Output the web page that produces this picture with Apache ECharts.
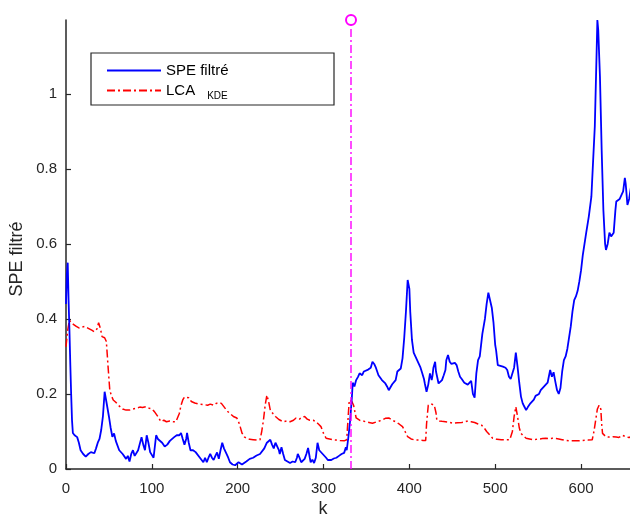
<!DOCTYPE html>
<html>
<head>
<meta charset="utf-8">
<script src="https://cdn.jsdelivr.net/npm/echarts@6/dist/echarts.min.js"></script>
<style>html,body{margin:0;padding:0;background:#fff}#c{width:630px;height:521px}</style>
</head>
<body>
<div id="c"></div>
<script>
const xTicks = [0, 100, 200, 300, 400, 500, 600];
const yTicks = [0, 0.2, 0.4, 0.6, 0.8, 1];
const faultK = 332;

const speK = [0,1,2,3,4,5,6,7,8,10,11,13,15,17,20,23,26,29,31,33,35,37,39,41,43,45,47,50,52,54,56,58,60,62,64,66,68,70,72,74,76,78,80,82,84,86,88,90,92,94,96,98,100,102,104,105,107,109,112,115,118,121,123,126,129,132,134,136,138,140,141,143,145,148,151,153,156,158,160,162,164,166,168,170,172,174,176,178,180,182,184,187,189,191,194,197,199,201,203,205,207,210,214,218,222,226,228,231,234,236,238,240,242,244,246,248,249,251,253,255,258,261,264,267,269,270,272,274,276,278,280,282,284,285,287,289,291,293,295,297,299,301,303,305,309,312,315,318,321,323,324,326,327,329,331,333,334,336,338,340,342,345,347,349,352,355,357,359,361,364,366,368,370,372,374,376,378,380,382,384,386,388,390,392,394,396,398,400,401,403,405,407,409,411,413,415,417,418,420,422,423,424,426,427,428,430,431,432,434,436,438,440,442,443,445,447,449,451,453,455,457,459,461,462,464,466,468,470,472,474,476,478,480,482,485,488,490,492,494,496,498,500,501,503,506,509,512,514,516,518,520,522,524,526,528,530,532,534,536,538,539,541,543,545,547,549,551,553,555,557,559,561,562,564,566,568,570,572,574,576,578,580,582,584,586,588,590,592,594,596,598,600,602,604,606,609,612,614,616,618,619,620,622,624,626,628,629,631,633,635,637,638,640,641,643,645,647,649,651,652,654,656,658];
const speVal = [0.44,0.52,0.55,0.45,0.37,0.28,0.20,0.13,0.096,0.09,0.095,0.085,0.07,0.05,0.04,0.033,0.04,0.045,0.04,0.042,0.055,0.07,0.08,0.104,0.14,0.206,0.18,0.14,0.11,0.086,0.095,0.075,0.07,0.05,0.055,0.04,0.035,0.027,0.035,0.02,0.04,0.05,0.035,0.03,0.05,0.045,0.085,0.065,0.05,0.09,0.07,0.045,0.04,0.03,0.07,0.09,0.08,0.08,0.07,0.06,0.065,0.075,0.08,0.085,0.09,0.09,0.096,0.08,0.065,0.08,0.096,0.07,0.05,0.05,0.045,0.04,0.03,0.024,0.018,0.03,0.018,0.03,0.04,0.03,0.024,0.035,0.044,0.027,0.05,0.07,0.055,0.04,0.03,0.018,0.012,0.01,0.008,0.018,0.016,0.012,0.013,0.02,0.027,0.03,0.036,0.04,0.04,0.055,0.07,0.072,0.078,0.065,0.055,0.07,0.07,0.05,0.04,0.058,0.04,0.024,0.02,0.016,0.02,0.018,0.03,0.04,0.03,0.018,0.02,0.027,0.04,0.056,0.03,0.018,0.025,0.016,0.03,0.07,0.05,0.048,0.04,0.036,0.03,0.024,0.024,0.028,0.03,0.035,0.04,0.045,0.043,0.058,0.05,0.086,0.13,0.19,0.23,0.22,0.237,0.245,0.255,0.25,0.26,0.264,0.265,0.27,0.286,0.28,0.27,0.25,0.245,0.237,0.235,0.228,0.22,0.21,0.215,0.226,0.23,0.237,0.26,0.262,0.268,0.295,0.35,0.42,0.504,0.48,0.42,0.344,0.31,0.3,0.29,0.28,0.27,0.255,0.24,0.228,0.206,0.225,0.24,0.255,0.237,0.25,0.27,0.286,0.26,0.255,0.228,0.23,0.237,0.25,0.264,0.29,0.304,0.286,0.28,0.28,0.283,0.277,0.26,0.246,0.24,0.237,0.23,0.226,0.225,0.222,0.235,0.2,0.19,0.255,0.29,0.3,0.36,0.4,0.44,0.47,0.465,0.43,0.39,0.33,0.317,0.277,0.275,0.273,0.27,0.264,0.246,0.24,0.235,0.27,0.31,0.273,0.23,0.193,0.175,0.166,0.157,0.165,0.17,0.175,0.18,0.185,0.195,0.195,0.2,0.21,0.215,0.22,0.224,0.23,0.233,0.264,0.246,0.258,0.233,0.21,0.2,0.216,0.26,0.29,0.3,0.32,0.35,0.38,0.42,0.45,0.46,0.475,0.5,0.53,0.57,0.6,0.63,0.673,0.726,0.82,0.913,1.1,1.197,1.17,1.046,0.85,0.69,0.6,0.584,0.6,0.63,0.62,0.625,0.63,0.69,0.713,0.71,0.72,0.716,0.74,0.776,0.76,0.704,0.72,0.75];

const lcaK = [0,2,4,6,9,12,15,18,22,26,30,33,36,38,40,42,45,47,49,51,53,55,58,61,63,66,70,74,78,82,86,89,93,97,100,103,105,107,109,111,114,117,121,125,128,130,132,134,136,138,140,143,146,150,155,160,165,168,172,175,178,181,183,186,189,191,195,199,202,205,208,210,214,218,222,226,228,230,232,234,236,238,241,244,248,253,257,261,265,268,272,275,278,281,284,288,291,294,297,300,303,307,311,315,319,324,327,329,330,333,335,338,342,346,349,353,357,361,365,368,372,376,380,384,388,392,395,398,402,407,412,416,419,420,422,425,429,431,432,435,438,442,446,451,456,461,465,468,472,476,480,484,487,490,494,497,502,507,512,517,520,522,524,526,528,530,533,536,540,544,548,551,555,559,563,567,571,574,578,582,586,590,596,602,608,613,615,617,619,621,623,624,625,627,629,633,637,641,644,648,652,656,658];
const lcaVal = [0.326,0.37,0.397,0.39,0.385,0.38,0.376,0.378,0.38,0.375,0.37,0.366,0.373,0.39,0.375,0.353,0.35,0.34,0.273,0.21,0.195,0.184,0.178,0.17,0.166,0.16,0.157,0.157,0.16,0.162,0.165,0.164,0.166,0.162,0.16,0.153,0.148,0.14,0.132,0.126,0.13,0.126,0.128,0.126,0.126,0.126,0.148,0.17,0.184,0.192,0.197,0.19,0.18,0.176,0.173,0.172,0.17,0.173,0.17,0.175,0.177,0.175,0.17,0.16,0.152,0.148,0.14,0.136,0.12,0.096,0.085,0.08,0.079,0.078,0.077,0.078,0.1,0.13,0.17,0.197,0.18,0.157,0.148,0.14,0.132,0.126,0.128,0.126,0.13,0.136,0.133,0.138,0.14,0.133,0.13,0.13,0.126,0.12,0.113,0.095,0.082,0.08,0.078,0.077,0.076,0.075,0.078,0.15,0.184,0.18,0.17,0.136,0.13,0.128,0.126,0.124,0.122,0.125,0.128,0.13,0.135,0.136,0.13,0.126,0.12,0.113,0.1,0.086,0.08,0.077,0.077,0.076,0.076,0.12,0.17,0.174,0.17,0.15,0.13,0.128,0.127,0.126,0.125,0.122,0.123,0.124,0.126,0.128,0.126,0.124,0.12,0.117,0.11,0.1,0.09,0.082,0.079,0.078,0.078,0.078,0.1,0.14,0.166,0.14,0.11,0.095,0.088,0.082,0.08,0.078,0.079,0.08,0.081,0.082,0.081,0.082,0.081,0.08,0.078,0.076,0.075,0.075,0.075,0.076,0.077,0.078,0.1,0.13,0.16,0.17,0.16,0.12,0.095,0.09,0.086,0.085,0.086,0.085,0.084,0.09,0.086,0.084,0.086];

const xMax = 657;
const yMax = 1.197;

const chart = echarts.init(document.getElementById('c'), null, {renderer: 'canvas'});
const font = 'Liberation Sans, Arial, Helvetica, sans-serif';
const axisColor = '#262626';

chart.setOption({
  animation: false,
  backgroundColor: '#ffffff',
  grid: {left: 66, top: 20, right: 0, bottom: 52, containLabel: false},
  xAxis: {
    type: 'value', min: 0, max: xMax,
    axisLine: {show: true, onZero: false, lineStyle: {color: axisColor, width: 1.5}},
    axisTick: {show: true, inside: true, length: 5, customValues: xTicks, lineStyle: {color: axisColor, width: 1.2}},
    axisLabel: {customValues: xTicks, color: axisColor, fontSize: 15, fontFamily: font, margin: 12},
    splitLine: {show: false}
  },
  yAxis: {
    type: 'value', min: 0, max: yMax,
    axisLine: {show: true, onZero: false, lineStyle: {color: axisColor, width: 1.5}},
    axisTick: {show: true, inside: true, length: 5, customValues: yTicks, lineStyle: {color: axisColor, width: 1.2}},
    axisLabel: {customValues: yTicks, color: axisColor, fontSize: 15, fontFamily: font, margin: 9},
    splitLine: {show: false}
  },
  legend: {
    left: 101, top: 58, orient: 'vertical',
    itemWidth: 54, itemHeight: 14, itemGap: 5,
    data: ['SPE filtré', 'LCA KDE'],
    itemStyle: {opacity: 0},
    formatter: function (n) { return n === 'LCA KDE' ? '{a|LCA}{b|KDE}' : n; },
    textStyle: {
      color: '#000', fontSize: 15, fontFamily: font,
      rich: {
        a: {fontSize: 15, fontFamily: font, color: '#000'},
        b: {fontSize: 10, fontFamily: font, color: '#000', padding: [12, 0, 0, 12]}
      }
    }
  },
  graphic: [
    {type: 'rect', z: 3, shape: {x: 91, y: 53, width: 243, height: 52}, style: {fill: '#fff', stroke: axisColor, lineWidth: 1.2}},
    {type: 'text', x: 17, y: 259, rotation: Math.PI / 2, style: {text: 'SPE filtré', font: '18px ' + font, fill: axisColor, align: 'center', verticalAlign: 'middle'}},
    {type: 'text', x: 323, y: 509, style: {text: 'k', font: '18px ' + font, fill: axisColor, align: 'center', verticalAlign: 'middle'}}
  ],
  series: [
    {
      name: 'SPE filtré', type: 'line', symbol: 'none',
      data: speK.map((k, i) => [k, speVal[i]]),
      lineStyle: {color: '#0000ff', width: 1.8}, itemStyle: {color: '#0000ff'}, z: 3
    },
    {
      name: 'LCA KDE', type: 'line', symbol: 'none',
      data: lcaK.map((k, i) => [k, lcaVal[i]]),
      lineStyle: {color: '#ff0000', width: 1.5, type: [8, 3, 2, 3]}, itemStyle: {color: '#ff0000'}, z: 2
    },
    {
      name: 'fault', type: 'line', clip: false, symbol: 'none',
      data: [[faultK, 0], {value: [faultK, yMax], symbol: 'emptyCircle', symbolSize: 10}],
      lineStyle: {color: '#ff00ff', width: 1.4, type: [8, 3, 2, 3]},
      itemStyle: {color: '#ff00ff', borderColor: '#ff00ff', borderWidth: 1.5}, z: 4
    }
  ]
});
</script>
</body>
</html>
